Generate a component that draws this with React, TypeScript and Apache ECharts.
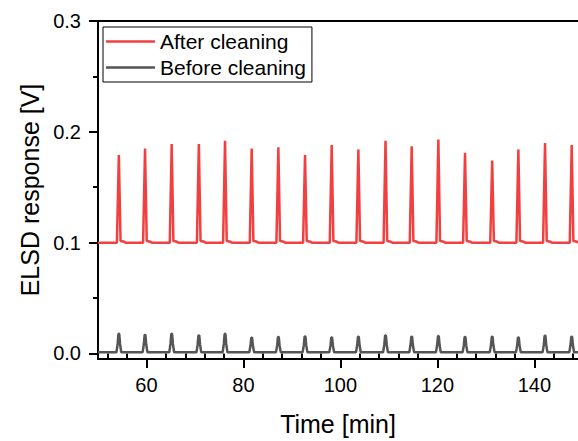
import React, { useEffect, useRef } from "react";
import * as echarts from "echarts";

// Retention times of the injected peaks [min]
const peakTimes = [54.3, 59.7, 65.2, 70.8, 76.2, 81.7, 87.2, 92.7, 98.2, 103.7, 109.3, 114.7, 120.2, 125.7, 131.3, 136.7, 142.2, 147.7];
// Peak maxima [V]
const afterPeaks = [0.179, 0.185, 0.189, 0.189, 0.192, 0.185, 0.186, 0.179, 0.188, 0.184, 0.192, 0.187, 0.193, 0.181, 0.174, 0.184, 0.19, 0.188];
const beforePeaks = [0.0178, 0.0167, 0.0178, 0.0163, 0.0178, 0.0142, 0.0149, 0.0154, 0.0145, 0.0151, 0.0163, 0.0151, 0.0157, 0.0149, 0.0151, 0.0145, 0.016, 0.0151];
// Baselines [V]
const afterBase = 0.1;
const afterTail = 0.0015;
const beforeBase = 0.001;

// Axis ticks
const xMajor = [60, 80, 100, 120, 140];
const xMinor = [52, 56, 64, 68, 72, 76, 84, 88, 92, 96, 104, 108, 112, 116, 124, 128, 132, 136, 144, 148];
const yMajor = [0, 0.1, 0.2, 0.3];
const yMinor = [0.05, 0.15, 0.25];

const X_MIN = 50;
const X_MAX = 149;
const FONT = "'Liberation Sans', Arial, sans-serif";
const RED = "#f23f3f";
const GREY = "#555555";

function buildAfter(): number[][] {
  const pts: number[][] = [[X_MIN, afterBase]];
  peakTimes.forEach((t, i) => {
    pts.push([t - 0.4, afterBase]);
    pts.push([t, afterPeaks[i]]);
    pts.push([t + 0.35, afterBase + afterTail]);
    pts.push([t + 0.9, afterBase + afterTail * 0.7]);
    pts.push([t + 1.4, afterBase]);
  });
  pts.push([X_MAX, afterBase]);
  return pts;
}

function buildBefore(): number[][] {
  const pts: number[][] = [[X_MIN, beforeBase]];
  peakTimes.forEach((t, i) => {
    const h = beforePeaks[i];
    pts.push([t - 0.5, beforeBase]);
    pts.push([t - 0.25, beforeBase + (h - beforeBase) * 0.45]);
    pts.push([t - 0.08, h]);
    pts.push([t + 0.08, h]);
    pts.push([t + 0.25, beforeBase + (h - beforeBase) * 0.45]);
    pts.push([t + 0.5, beforeBase]);
  });
  pts.push([X_MAX, beforeBase]);
  return pts;
}

export default function App() {
  const ref = useRef<HTMLDivElement>(null);
  useEffect(() => {
    if (!ref.current) return;
    const chart = echarts.init(ref.current, null, { renderer: "svg" });
    const black = "#000";
    const hiddenX = {
      type: "value",
      min: X_MIN,
      max: X_MAX,
      splitLine: { show: false },
      axisLabel: { show: false },
    };
    const hiddenY = {
      type: "value",
      min: -0.005,
      max: 0.3,
      splitLine: { show: false },
      axisLabel: { show: false },
    };
    chart.setOption({
      animation: false,
      backgroundColor: "#fff",
      textStyle: { fontFamily: FONT },
      grid: { left: 98, right: 0, top: 21, bottom: 80, containLabel: false },
      legend: {
        data: [
          { name: "After cleaning", icon: "rect", itemStyle: { color: RED } },
          { name: "Before cleaning", icon: "rect", itemStyle: { color: GREY } },
        ],
        orient: "vertical",
        left: 103,
        top: 27,
        borderColor: black,
        borderWidth: 1,
        borderRadius: 0,
        padding: [4, 6, 4, 3],
        itemGap: 5,
        itemWidth: 49,
        itemHeight: 2.5,
        textStyle: { fontSize: 21, color: black, fontFamily: FONT, lineHeight: 21 },
      },
      xAxis: [
        {
          type: "value",
          min: X_MIN,
          max: X_MAX,
          position: "bottom",
          name: "Time [min]",
          nameLocation: "middle",
          nameGap: 52,
          nameTextStyle: { fontSize: 25, color: black, fontFamily: FONT },
          axisLine: { show: true, onZero: false, lineStyle: { color: black, width: 2 } },
          axisTick: { show: true, inside: false, length: 9, customValues: xMajor, lineStyle: { color: black, width: 2 } },
          axisLabel: { show: true, customValues: xMajor, margin: 16, fontSize: 20, color: black, fontFamily: FONT },
          splitLine: { show: false },
        },
        {
          ...hiddenX,
          position: "bottom",
          axisLine: { show: false },
          axisTick: { show: true, inside: false, length: 5, customValues: xMinor, lineStyle: { color: black, width: 2 } },
        },
        {
          ...hiddenX,
          position: "top",
          axisLine: { show: true, onZero: false, lineStyle: { color: black, width: 2 } },
          axisTick: { show: false },
        },
      ],
      yAxis: [
        {
          type: "value",
          min: -0.005,
          max: 0.3,
          position: "left",
          name: "ELSD response [V]",
          nameLocation: "middle",
          nameGap: 55,
          nameTextStyle: { fontSize: 25, color: black, fontFamily: FONT },
          axisLine: { show: true, onZero: false, lineStyle: { color: black, width: 2 } },
          axisTick: { show: true, inside: false, length: 9, customValues: yMajor, lineStyle: { color: black, width: 2 } },
          axisLabel: {
            show: true,
            customValues: yMajor,
            margin: 17,
            fontSize: 20,
            color: black,
            fontFamily: FONT,
            formatter: (v: number) => v.toFixed(1),
          },
          splitLine: { show: false },
        },
        {
          ...hiddenY,
          position: "left",
          axisLine: { show: false },
          axisTick: { show: true, inside: false, length: 5, customValues: yMinor, lineStyle: { color: black, width: 2 } },
        },
      ],
      series: [
        {
          name: "After cleaning",
          type: "line",
          xAxisIndex: 0,
          yAxisIndex: 0,
          data: buildAfter(),
          symbol: "none",
          lineStyle: { color: RED, width: 2.5 },
          itemStyle: { color: RED },
          z: 3,
        },
        {
          name: "Before cleaning",
          type: "line",
          xAxisIndex: 0,
          yAxisIndex: 0,
          data: buildBefore(),
          symbol: "none",
          lineStyle: { color: GREY, width: 2.5 },
          itemStyle: { color: GREY },
          z: 3,
        },
      ],
    });
    return () => chart.dispose();
  }, []);
  return (
    <div
      ref={ref}
      style={{ position: "fixed", left: 0, top: 0, width: 578, height: 441, background: "#fff" }}
    />
  );
}
